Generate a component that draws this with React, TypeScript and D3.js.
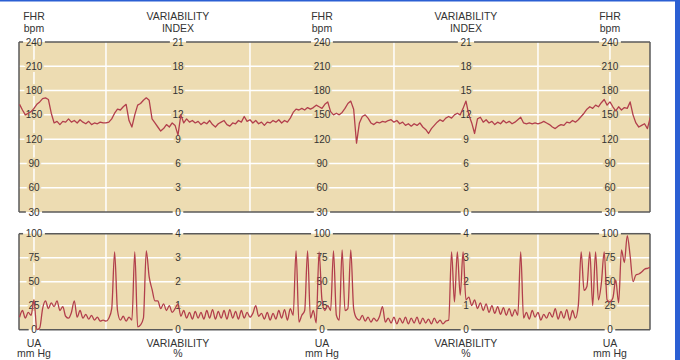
import React from "react";
import * as d3 from "d3";

// sampled every 0.4 min, first sample at -2 min
const sampleStart = -2.0;
const sampleStep = 0.4;

const fhrBpm = [
  163, 156, 150, 152, 154, 158, 163, 166, 170, 171,
  169, 152, 140, 142, 138, 142, 141, 145, 141, 143,
  140, 144, 141, 139, 142, 138, 140, 139, 141, 140,
  140, 141, 145, 152, 157, 156, 160, 163, 143, 135,
  150, 162, 164, 168, 171, 168, 145, 140, 135, 130,
  133, 138, 135, 140, 137, 125, 150, 140, 145, 141,
  143, 140, 142, 138, 141, 139, 143, 138, 135, 139,
  141, 143, 138, 136, 140, 139, 143, 141, 148, 142,
  144, 140, 143, 139, 141, 137, 141, 140, 143, 141,
  144, 140, 143, 141, 146, 153, 157, 156, 158, 156,
  159, 157, 159, 162, 160, 158, 163, 166, 154, 150,
  152, 150, 153, 158, 164, 167, 157, 115, 140, 148,
  150, 146, 140, 138, 141, 140, 142, 141, 143, 144,
  141, 143, 139, 141, 137, 139, 136, 139, 137, 140,
  135, 132, 127, 133, 137, 141, 144, 142, 146, 148,
  146, 150, 152, 150, 158, 167, 150, 140, 127, 145,
  147, 141, 144, 140, 142, 138, 141, 139, 143, 140,
  142, 139, 141, 144, 147, 140, 139, 140, 139, 140,
  139, 140, 142, 140, 138, 135, 133, 136, 138, 137,
  141, 140, 143, 141, 144, 148, 152, 157, 160, 158,
  162, 160, 165, 169, 162, 166, 160, 155, 160, 156,
  159, 158, 166, 150, 140, 135, 137, 139, 133, 147,
];

const uaMmHg = [
  13, 20, 12, 18, 15, 31, 0, 2, 22, 30,
  22, 28, 24, 30, 20, 24, 14, 12, 18, 30,
  13, 20, 12, 16, 11, 15, 10, 13, 9, 10,
  9, 12, 22, 81, 20, 10, 14, 9, 13, 10,
  81, 3, 5, 12, 82, 55, 42, 30, 30, 22,
  27, 20, 25, 18, 22, 27, 14, 20, 12, 18,
  11, 19, 12, 18, 11, 20, 12, 21, 11, 19,
  12, 20, 11, 21, 12, 19, 11, 20, 12, 18,
  13, 17, 25, 14, 17, 11, 18, 10, 17, 11,
  20, 12, 21, 10, 22, 15, 82, 8, 15, 20,
  82, 12, 20, 7, 81, 31, 20, 25, 20, 82,
  15, 10, 83, 20, 22, 83, 22, 12, 10, 15,
  9, 13, 8, 12, 9, 14, 24, 8, 12, 7,
  13, 6, 12, 7, 13, 6, 12, 7, 13, 6,
  12, 7, 11, 6, 12, 7, 10, 6, 9, 10,
  81, 29, 81, 36, 81, 31, 34, 25, 31, 22,
  28, 20, 27, 18, 25, 17, 24, 16, 23, 15,
  22, 14, 21, 15, 81, 12, 18, 11, 20, 13,
  18, 10, 16, 12, 18, 13, 22, 11, 19, 12,
  21, 10, 20, 12, 25, 81, 41, 45, 81, 25,
  81, 31, 48, 81, 31, 29, 33, 52, 28, 83,
  70, 98, 77, 50, 57, 58, 60, 63, 64, 65,
];

const fhrTicks = [30, 60, 90, 120, 150, 180, 210, 240];
const viTicks = [0, 3, 6, 9, 12, 15, 18, 21];
const uaTicks = [0, 25, 50, 75, 100];
const varTicks = [0, 1, 2, 3, 4];

const axisMinutes = [0, 20, 40, 60, 80];
const gridMinutes = [0, 10, 30, 50, 70, 80];

const W = 680;
const H = 360;
const FONT = "'Liberation Sans', Arial, Helvetica, sans-serif";
const TAN = "#eddcb2";
const BORDER = "#5a5a5a";
const TEXT = "#333";
const TRACE = "#b23f4c";

const x = d3.scaleLinear().domain([-2.08, 85.56]).range([19, 650]);

const panels = [
  {
    id: "fhr",
    top: 42,
    bottom: 212,
    domain: [30, 240],
    primary: fhrTicks,
    secondary: viTicks,
    values: fhrBpm,
    curve: d3.curveLinear,
    titles: [["FHR", "bpm"], ["VARIABILITY", "INDEX"]],
    titleY: [16, 28],
  },
  {
    id: "ua",
    top: 233.7,
    bottom: 329.7,
    domain: [0, 100],
    primary: uaTicks,
    secondary: varTicks,
    values: uaMmHg,
    curve: d3.curveMonotoneX,
    titles: [["UA", "mm Hg"], ["VARIABILITY", "%"]],
    titleY: [343, 353.5],
  },
];

function labelWidth(s: string) {
  return s.length * 5.6;
}

function Panel({ p }: { p: (typeof panels)[number] }) {
  const y = d3.scaleLinear().domain(p.domain).range([p.bottom, p.top]);
  const x0 = x.range()[0];
  const x1 = x.range()[1];
  const line = d3
    .line<number>()
    .x((_, i) => x(sampleStart + i * sampleStep))
    .y((d) => y(d))
    .curve(p.curve);

  const lab = (k: number, j: number) =>
    String(k % 2 === 0 ? p.primary[j] : p.secondary[j]);

  // border line pieces between the labels on the top/bottom edge
  const edge = (j: number, yy: number) => {
    const segs: [number, number][] = [];
    let start = x0;
    axisMinutes.forEach((m, k) => {
      const c = x(m);
      const g = labelWidth(lab(k, j)) / 2 + 2.5;
      segs.push([start, c - g]);
      start = c + g;
    });
    segs.push([start, x1]);
    return segs.map(([a, b], i) => (
      <line key={i} x1={a} x2={b} y1={yy} y2={yy} stroke={BORDER} strokeWidth={1.5} />
    ));
  };

  const last = p.primary.length - 1;
  const clipId = `clip-${p.id}`;

  return (
    <g>
      <defs>
        <clipPath id={clipId}>
          <rect x={x0} y={p.top - 10} width={x1 - x0} height={p.bottom - p.top + 20} />
        </clipPath>
      </defs>
      <rect x={x0} y={p.top} width={x1 - x0} height={p.bottom - p.top} fill={TAN} />
      {p.primary.slice(1, last).map((v) => (
        <line key={"h" + v} x1={x0} x2={x1} y1={y(v)} y2={y(v)} stroke="#fff" strokeWidth={1.5} />
      ))}
      {gridMinutes.map((m) => (
        <line key={"v" + m} x1={x(m)} x2={x(m)} y1={p.top} y2={p.bottom} stroke="#fff" strokeWidth={1.5} />
      ))}
      {axisMinutes.map((m, k) =>
        p.primary.slice(1, last).map((_, jj) => {
          const j = jj + 1;
          return (
            <text
              key={`t${k}-${j}`}
              x={x(m)}
              y={y(p.primary[j])}
              dy="0.35em"
              textAnchor="middle"
              fontSize={10}
              fill={TEXT}
              stroke={TAN}
              strokeWidth={4}
              style={{ paintOrder: "stroke" }}
            >
              {lab(k, j)}
            </text>
          );
        })
      )}
      {edge(last, p.top)}
      {edge(0, p.bottom)}
      <line x1={x0} x2={x0} y1={p.top} y2={p.bottom} stroke={BORDER} strokeWidth={1.5} />
      <line x1={x1} x2={x1} y1={p.top} y2={p.bottom} stroke={BORDER} strokeWidth={1.5} />
      {axisMinutes.map((m, k) => (
        <g key={"e" + k}>
          <text x={x(m)} y={p.top} dy="0.35em" textAnchor="middle" fontSize={10} fill={TEXT}>
            {lab(k, last)}
          </text>
          <text x={x(m)} y={p.bottom} dy="0.35em" textAnchor="middle" fontSize={10} fill={TEXT}>
            {lab(k, 0)}
          </text>
        </g>
      ))}
      <path
        d={line(p.values) || ""}
        fill="none"
        stroke={TRACE}
        strokeWidth={1.3}
        strokeLinejoin="round"
        clipPath={`url(#${clipId})`}
      />
      {axisMinutes.map((m, k) => {
        const t = p.titles[k % 2];
        return (
          <g key={"ti" + k}>
            <text x={x(m)} y={p.titleY[0]} dy="0.35em" textAnchor="middle" fontSize={10.5} fill={TEXT}>
              {t[0]}
            </text>
            <text x={x(m)} y={p.titleY[1]} dy="0.35em" textAnchor="middle" fontSize={10.5} fill={TEXT}>
              {t[1]}
            </text>
          </g>
        );
      })}
    </g>
  );
}

export default function App() {
  return (
    <svg
      width={W}
      height={H}
      style={{ position: "absolute", left: 0, top: 0, fontFamily: FONT }}
    >
      <rect width={W} height={H} fill="#fff" />
      {panels.map((p) => (
        <Panel key={p.id} p={p} />
      ))}
      <rect x={0} y={0} width={W} height={1.5} fill="#2b5fd3" />
      <rect x={675} y={0} width={5} height={H} fill="#2b5fd3" />
    </svg>
  );
}
